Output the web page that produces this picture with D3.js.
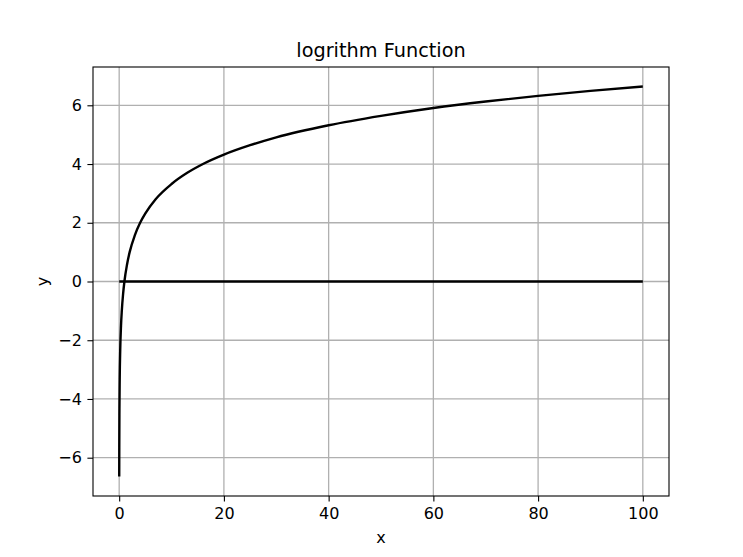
<!DOCTYPE html>
<html><head><meta charset="utf-8">
<script src="https://cdn.jsdelivr.net/npm/d3@7"></script>
<style>body{margin:0;background:#fff}svg{display:block}text{font-family:"DejaVu Sans",sans-serif}</style>
</head><body>
<svg id="c" width="743" height="557"></svg>
<script>
// y = log2(x) curve
const curveX = [0.01,0.02,0.05,0.1,0.2,0.35,0.5,0.75,1,1.5,2,3,4,5,7,10,13,16,20,25,30,40,50,60,70,80,90,100];
const curveY = [-6.64,-5.64,-4.32,-3.32,-2.32,-1.51,-1,-0.42,0,0.58,1,1.58,2,2.32,2.81,3.32,3.70,4,4.32,4.64,4.91,5.32,5.64,5.91,6.13,6.32,6.49,6.64];
// horizontal zero line
const zeroX = [0.01,100];
const zeroY = [0,0];
const xTicks = [0,20,40,60,80,100];
const yTicks = [-6,-4,-2,0,2,4,6];
const title = "logrithm Function";

const W=743,H=557;
const L=93,R=669,T=67,B=496;
const svg=d3.select("#c");
const x=d3.scaleLinear().domain([-4.9995,104.9995]).range([L,R]);
const y=d3.scaleLinear().domain([-7.304,7.304]).range([B,T]);
const fmt=d=>d<0?"\u2212"+Math.abs(d):String(d);

// grid
svg.append("g").selectAll("line").data(xTicks).join("line")
 .attr("x1",d=>x(d)).attr("x2",d=>x(d)).attr("y1",T).attr("y2",B)
 .attr("stroke","#b0b0b0").attr("stroke-width",1.3);
svg.append("g").selectAll("line").data(yTicks).join("line")
 .attr("y1",d=>y(d)).attr("y2",d=>y(d)).attr("x1",L).attr("x2",R)
 .attr("stroke","#b0b0b0").attr("stroke-width",1.3);

const line=d3.line().x(d=>x(d[0])).y(d=>y(d[1])).curve(d3.curveMonotoneX);
svg.append("path").datum(curveX.map((v,i)=>[v,curveY[i]])).attr("d",line)
 .attr("fill","none").attr("stroke","#000").attr("stroke-width",2.4);
svg.append("path").datum(zeroX.map((v,i)=>[v,zeroY[i]])).attr("d",line)
 .attr("fill","none").attr("stroke","#000").attr("stroke-width",2.4);

// axes
const xa=svg.append("g").attr("transform",`translate(0,${B})`)
 .call(d3.axisBottom(x).tickValues(xTicks).tickFormat(fmt).tickSize(5.6).tickPadding(5.6));
const ya=svg.append("g").attr("transform",`translate(${L},0)`)
 .call(d3.axisLeft(y).tickValues(yTicks).tickFormat(fmt).tickSize(5.6).tickPadding(5.6));
[xa,ya].forEach(g=>{g.select(".domain").remove();
 g.selectAll("line").attr("stroke","#000").attr("stroke-width",1.1);
 g.selectAll("text").attr("font-size",16).attr("fill","#000").style("font-family","DejaVu Sans");});

svg.append("rect").attr("x",L).attr("y",T).attr("width",R-L).attr("height",B-T)
 .attr("fill","none").attr("stroke","#000").attr("stroke-width",1.1);

svg.append("text").attr("x",(L+R)/2).attr("y",T-10).attr("text-anchor","middle")
 .attr("font-size",19.3).text(title);
svg.append("text").attr("x",(L+R)/2).attr("y",B+47).attr("text-anchor","middle")
 .attr("font-size",16).text("x");
svg.append("text").attr("transform",`translate(48,${(T+B)/2}) rotate(-90)`).attr("text-anchor","middle")
 .attr("font-size",16).text("y");
</script>
</body></html>
